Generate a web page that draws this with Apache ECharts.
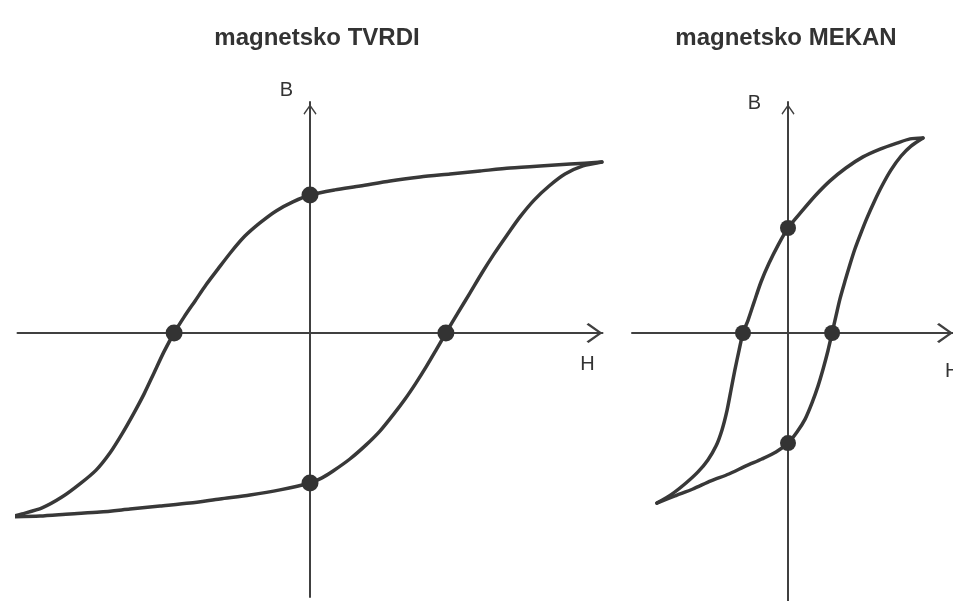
<!DOCTYPE html>
<html>
<head>
<meta charset="utf-8">
<title>magnetsko TVRDI / MEKAN</title>
<script src="https://cdn.jsdelivr.net/npm/echarts@6/dist/echarts.min.js"></script>
<style>
  html, body { margin: 0; padding: 0; background: #ffffff; }
  #chart { width: 953px; height: 601px; }
</style>
</head>
<body>
<div id="chart"></div>
<script>
// naslovi i oznake osi
var naslovi = ['magnetsko TVRDI', 'magnetsko MEKAN'];
var osB = 'B';
var osH = 'H';

// magnetsko tvrdi materijal - [H, B]
var tvrdiGornja = [
  [9.73, 5.70], [8.67, 5.63], [7.67, 5.57], [6.67, 5.50], [5.67, 5.40], [4.67, 5.30],
  [3.67, 5.20], [2.67, 5.07], [1.67, 4.90], [0.83, 4.77], [0, 4.60], [-0.57, 4.37],
  [-1.13, 4.07], [-1.67, 3.67], [-2.17, 3.23], [-2.63, 2.70], [-3.07, 2.13], [-3.47, 1.60],
  [-3.83, 1.07], [-4.20, 0.53], [-4.53, 0], [-4.87, -0.63], [-5.20, -1.33], [-5.53, -2.03],
  [-5.87, -2.67], [-6.27, -3.37], [-6.67, -4.00], [-7.13, -4.57], [-7.67, -5.03],
  [-8.27, -5.47], [-8.93, -5.83], [-9.60, -6.03], [-10.0, -6.13]
];
var tvrdiDonja = [
  [-10.0, -6.13], [-9.0, -6.10], [-8.0, -6.03], [-7.0, -5.97], [-6.0, -5.87], [-5.0, -5.77],
  [-4.0, -5.67], [-3.0, -5.53], [-2.0, -5.40], [-1.0, -5.23], [0, -5.0], [0.4, -4.83],
  [0.77, -4.60], [1.33, -4.20], [1.87, -3.73], [2.33, -3.27], [2.77, -2.73], [3.17, -2.20],
  [3.53, -1.67], [3.87, -1.13], [4.20, -0.57], [4.53, 0], [4.93, 0.67], [5.33, 1.33],
  [5.73, 2.0], [6.13, 2.63], [6.57, 3.27], [7.0, 3.87], [7.47, 4.43], [7.97, 4.90],
  [8.5, 5.30], [9.1, 5.57], [9.73, 5.70]
];
var tvrdiTocke = [[0, 4.60], [-4.53, 0], [4.53, 0], [0, -5.0]];

// magnetsko meki materijal - [H, B]
var mekanGornja = [
  [4.5, 6.5], [4.07, 6.47], [3.63, 6.33], [3.07, 6.13], [2.5, 5.87], [1.93, 5.5],
  [1.4, 5.07], [0.93, 4.6], [0.47, 4.07], [0, 3.5], [-0.33, 2.93], [-0.63, 2.33],
  [-0.9, 1.7], [-1.13, 1.03], [-1.33, 0.43], [-1.5, 0], [-1.63, -0.57], [-1.77, -1.23],
  [-1.9, -1.9], [-2.03, -2.57], [-2.2, -3.23], [-2.4, -3.77], [-2.67, -4.23], [-3.0, -4.63],
  [-3.4, -5.0], [-3.87, -5.37], [-4.37, -5.67]
];
var mekanDonja = [
  [-4.37, -5.67], [-3.77, -5.43], [-3.17, -5.2], [-2.57, -4.93], [-1.97, -4.7], [-1.4, -4.43],
  [-0.87, -4.2], [-0.4, -3.97], [0, -3.67], [0.3, -3.3], [0.57, -2.87], [0.8, -2.33],
  [1.0, -1.77], [1.17, -1.2], [1.33, -0.6], [1.47, 0], [1.6, 0.57], [1.73, 1.13],
  [1.9, 1.73], [2.07, 2.3], [2.23, 2.8], [2.43, 3.33], [2.63, 3.83], [2.87, 4.37],
  [3.13, 4.9], [3.43, 5.43], [3.77, 5.9], [4.1, 6.23], [4.5, 6.5]
];
var mekanTocke = [[0, 3.5], [-1.5, 0], [1.47, 0], [0, -3.67]];

var boja = '#383838';
var strelica = 'path://M10,0 L20,14 L18.6,16 L10,3.8 L1.4,16 L0,14 Z';

function os(idx, min, max, ime, nameStyle, nameGap, symSize) {
  return {
    type: 'value',
    gridIndex: idx,
    min: min,
    max: max,
    name: ime,
    nameLocation: 'end',
    nameGap: nameGap,
    nameTextStyle: nameStyle,
    axisLine: {
      show: true,
      onZero: true,
      symbol: ['none', strelica],
      symbolSize: symSize,
      symbolOffset: [0, -symSize[1] / 2],
      lineStyle: { color: '#404040', width: 2 }
    },
    axisTick: { show: false },
    axisLabel: { show: false },
    splitLine: { show: false }
  };
}

function krivulja(podaci, idx) {
  return {
    type: 'line',
    xAxisIndex: idx,
    yAxisIndex: idx,
    data: podaci,
    smooth: 0.25,
    showSymbol: false,
    clip: false,
    silent: true,
    lineStyle: { color: boja, width: 3.5, cap: 'round', join: 'round' },
    z: 3
  };
}

function tocke(podaci, idx, vel) {
  return {
    type: 'scatter',
    xAxisIndex: idx,
    yAxisIndex: idx,
    data: podaci,
    symbol: 'circle',
    symbolSize: vel,
    silent: true,
    clip: false,
    itemStyle: { color: '#333333', opacity: 1 },
    z: 5
  };
}

var slovo = { color: '#333333', fontSize: 20, fontFamily: 'Liberation Sans, Arial, sans-serif' };

var option = {
  backgroundColor: '#ffffff',
  animation: false,
  title: [
    {
      text: naslovi[0], left: 312, top: 21, textAlign: 'center',
      textStyle: { color: '#333333', fontSize: 24, fontWeight: 'bold', fontFamily: 'Liberation Sans, Arial, sans-serif' }
    },
    {
      text: naslovi[1], left: 781, top: 21, textAlign: 'center',
      textStyle: { color: '#333333', fontSize: 24, fontWeight: 'bold', fontFamily: 'Liberation Sans, Arial, sans-serif' }
    }
  ],
  grid: [
    { left: 17.5, top: 102, width: 585, height: 495, outerBoundsMode: 'none', containLabel: false },
    { left: 632, top: 102, width: 321, height: 507, outerBoundsMode: 'none', containLabel: false }
  ],
  xAxis: [
    os(0, -9.75, 9.75, osH, Object.assign({ align: 'center', verticalAlign: 'top', padding: [21, 0, 0, 0] }, slovo), -15, [20, 16]),
    os(1, -5.2, 5.5, osH, Object.assign({ align: 'left', verticalAlign: 'top', padding: [28, 0, 0, 0] }, slovo), -8, [20, 16])
  ],
  yAxis: [
    os(0, -8.8, 7.7, osB, Object.assign({ align: 'right', verticalAlign: 'bottom', padding: [0, 17, 0, 0] }, slovo), 2, [13, 15]),
    os(1, -9.2, 7.7, osB, Object.assign({ align: 'right', verticalAlign: 'bottom', padding: [0, 27, 0, 0] }, slovo), -11, [13, 15])
  ],
  series: [
    krivulja(tvrdiGornja, 0),
    krivulja(tvrdiDonja, 0),
    tocke(tvrdiTocke, 0, 17),
    krivulja(mekanGornja, 1),
    krivulja(mekanDonja, 1),
    tocke(mekanTocke, 1, 16)
  ]
};

var chart = echarts.init(document.getElementById('chart'), null, { renderer: 'canvas' });
chart.setOption(option);
</script>
</body>
</html>
